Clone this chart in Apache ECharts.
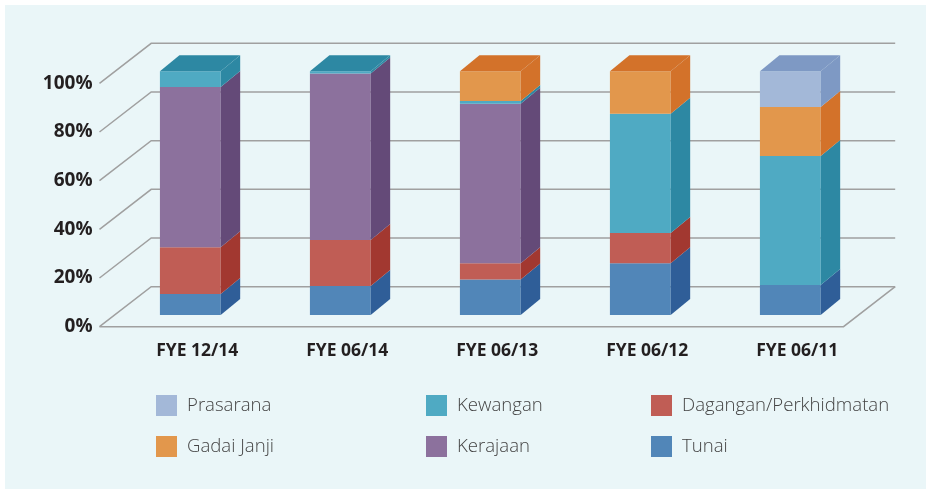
<!DOCTYPE html>
<html>
<head>
<meta charset="utf-8">
<script src="https://cdn.jsdelivr.net/npm/echarts@6/dist/echarts.min.js"></script>
<style>
  html, body { margin: 0; padding: 0; background: #fff; }
  #chart { width: 926px; height: 489px; }
</style>
</head>
<body>
<div id="chart"></div>
<script>
const categories = ['FYE 12/14', 'FYE 06/14', 'FYE 06/13', 'FYE 06/12', 'FYE 06/11'];
const yTicks = [0, 20, 40, 60, 80, 100];

// percentages, bottom of the stack first
const tunai = [8.6, 11.9, 14.6, 21.2, 12.3];
const dagangan = [19.2, 18.9, 6.6, 12.4, 0];
const kerajaan = [65.8, 68.3, 65.5, 0, 0];
const kewangan = [6.4, 0.9, 1.1, 49.0, 52.9];
const gadaiJanji = [0, 0, 12.2, 17.4, 20.2];
const prasarana = [0, 0, 0, 0, 14.6];

const layers = [
  { name: 'Tunai', values: tunai, front: '#5186b8', side: '#2f5e98' },
  { name: 'Dagangan/Perkhidmatan', values: dagangan, front: '#c05d55', side: '#a23830' },
  { name: 'Kerajaan', values: kerajaan, front: '#8c719d', side: '#644a78' },
  { name: 'Kewangan', values: kewangan, front: '#4faac3', side: '#2d88a3' },
  { name: 'Gadai Janji', values: gadaiJanji, front: '#e2974c', side: '#d3722a' },
  { name: 'Prasarana', values: prasarana, front: '#a3b8d8', side: '#7e99c4' }
];

// depth of the bars and of the back wall
const BAR_DX = 19.5, BAR_DY = -16;
const WALL_DX = 51.7, WALL_DY = -40;

// build stacked [index, base, top, isTop]
const stacked = layers.map(() => []);
categories.forEach((c, i) => {
  let base = 0;
  let topLayer = -1;
  layers.forEach((l, k) => { if (l.values[i] > 0) topLayer = k; });
  layers.forEach((l, k) => {
    const v = l.values[i];
    stacked[k].push([i, base, base + v, k === topLayer ? 1 : 0]);
    base += v;
  });
});

const renderBar = (layer) => (params, api) => {
  const base = api.value(1), top = api.value(2);
  if (top - base <= 0) return null;
  const p0 = api.coord([api.value(0), base]);
  const p1 = api.coord([api.value(0), top]);
  const w = api.size([1, 0])[0] * 0.405;
  const l = p0[0] - w / 2, r = l + w;
  const children = [
    { type: 'rect', shape: { x: l, y: p1[1], width: w, height: p0[1] - p1[1] }, style: { fill: layer.front } },
    { type: 'polygon', shape: { points: [[r, p0[1]], [r, p1[1]], [r + BAR_DX, p1[1] + BAR_DY], [r + BAR_DX, p0[1] + BAR_DY]] }, style: { fill: layer.side } }
  ];
  if (api.value(3)) {
    children.push({ type: 'polygon', shape: { points: [[l, p1[1]], [r, p1[1]], [r + BAR_DX, p1[1] + BAR_DY], [l + BAR_DX, p1[1] + BAR_DY]] }, style: { fill: layer.side } });
  }
  return { type: 'group', children };
};

const renderWall = (params, api) => {
  const cs = params.coordSys;
  const y = api.coord([0, api.value(1)])[1];
  const right = cs.x + cs.width;
  const style = { stroke: '#a0a0a0', lineWidth: 1.5, fill: null };
  const children = [
    { type: 'polyline', shape: { points: [[cs.x, y], [cs.x + WALL_DX, y + WALL_DY], [right + WALL_DX, y + WALL_DY]] }, style }
  ];
  if (api.value(1) === 0) {
    children.push({ type: 'polyline', shape: { points: [[cs.x, y], [right, y], [right + WALL_DX, y + WALL_DY]] }, style });
  }
  return { type: 'group', children };
};

const chart = echarts.init(document.getElementById('chart'));

const legendText = { fontFamily: 'Open Sans', fontWeight: 300, fontSize: 18.6, color: '#444', padding: [0, 0, 0, 5] };
const legendBase = { orient: 'vertical', top: 395, padding: 0, itemWidth: 21, itemHeight: 21, itemGap: 20, icon: 'rect', selectedMode: false, textStyle: legendText };

chart.setOption({
  backgroundColor: '#fff',
  animation: false,
  graphic: [{ type: 'rect', left: 5, top: 5, z: -10, shape: { width: 921, height: 484 }, style: { fill: '#eaf6f8' } }],
  grid: [
    { left: 99.5, top: 83.3, width: 744, height: 243.4 },
    { left: 115.3, top: 71.3, width: 750, height: 243.7 }
  ],
  xAxis: [
    { type: 'category', gridIndex: 0, data: categories, show: false },
    {
      type: 'category', gridIndex: 1, data: categories,
      axisLine: { show: false }, axisTick: { show: false },
      axisLabel: { margin: 27, padding: [0, 0, 0, 14], fontFamily: 'Open Sans', fontWeight: 'bold', fontSize: 17.5, color: '#231f20' }
    }
  ],
  yAxis: [
    {
      type: 'value', gridIndex: 0, min: 0, max: 100, interval: 20,
      axisLine: { show: false }, axisTick: { show: false }, splitLine: { show: false },
      axisLabel: { margin: 7, formatter: '{value}%', fontFamily: 'Open Sans', fontWeight: 'bold', fontSize: 19, color: '#231f20' }
    },
    { type: 'value', gridIndex: 1, min: 0, max: 100, show: false }
  ],
  legend: [
    Object.assign({ left: 156, data: ['Prasarana', 'Gadai Janji'] }, legendBase),
    Object.assign({ left: 426, data: ['Kewangan', 'Kerajaan'] }, legendBase),
    Object.assign({ left: 651, data: ['Dagangan/Perkhidmatan', 'Tunai'] }, legendBase)
  ],
  series: [
    {
      type: 'custom', name: 'wall', xAxisIndex: 0, yAxisIndex: 0, z: 1, silent: true,
      data: yTicks.map(v => [0, v]),
      renderItem: renderWall
    }
  ].concat(layers.map((layer, k) => ({
    type: 'custom', name: layer.name, xAxisIndex: 1, yAxisIndex: 1, z: 2,
    itemStyle: { color: layer.front },
    encode: { x: 0, y: 2 },
    data: stacked[k],
    renderItem: renderBar(layer)
  })))
});
</script>
</body>
</html>
